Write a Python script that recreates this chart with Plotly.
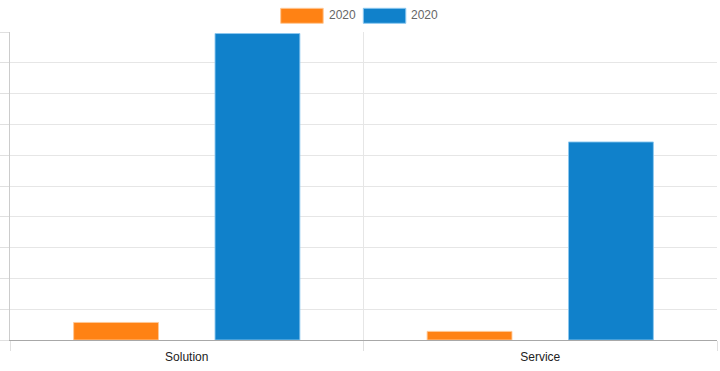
import plotly.graph_objects as go

categories = ["Solution", "Service"]
series_a_name = "2020"
series_a = [5.7, 2.8]
series_b_name = "2020"
series_b = [99.5, 64.3]

ORANGE = "#ff8214"
BLUE = "#1081cb"

W, H = 720, 371
L, R, T, B = 10, 3, 32, 31
pw, ph = W - L - R, H - T - B

def px_x(x):
    return (x - L) / pw

def px_y(y):
    return (H - B - y) / ph

fig = go.Figure()
fig.add_trace(go.Bar(x=categories, y=series_a, name=series_a_name,
                     marker=dict(color=ORANGE, line=dict(color="rgba(255,200,150,0.9)", width=1))))
fig.add_trace(go.Bar(x=categories, y=series_b, name=series_b_name,
                     marker=dict(color=BLUE, line=dict(color="rgba(140,200,240,0.9)", width=1))))

# custom legend (Chart.js style boxes)
legend_items = [(280.7, ORANGE, "rgba(255,200,150,1)", series_a_name),
                (363.3, BLUE, "rgba(140,200,240,1)", series_b_name)]
shapes = []
annotations = []
for x0, col, lc, name in legend_items:
    shapes.append(dict(type="rect", xref="paper", yref="paper",
                       x0=px_x(x0), x1=px_x(x0 + 42.5), y0=px_y(23.3), y1=px_y(8.3),
                       fillcolor=col, line=dict(color=lc, width=1), layer="above"))
    annotations.append(dict(xref="paper", yref="paper", x=px_x(x0 + 46), y=px_y(15.5),
                            text=name, showarrow=False, xanchor="left", yanchor="middle",
                            font=dict(size=12, color="#666666",
                                      family="Liberation Sans, Arial, sans-serif")))

fig.update_layout(
    width=W, height=H,
    margin=dict(l=L, r=R, t=T, b=B, autoexpand=False),
    paper_bgcolor="white", plot_bgcolor="white",
    barmode="group", bargap=0.2, bargroupgap=0.4,
    showlegend=False,
    shapes=shapes, annotations=annotations,
    font=dict(family="Liberation Sans, Arial, sans-serif", size=12, color="#333333"),
    xaxis=dict(type="category", tickson="boundaries", showgrid=True, gridcolor="#e6e6e6",
               ticks="outside", ticklen=10, tickcolor="#e0e0e0", automargin=False,
               showline=True, linecolor="#a8a8a8", linewidth=1,
               tickfont=dict(size=12, color="#222222"), ticklabelstandoff=6),
    yaxis=dict(range=[0, 100], dtick=10, showticklabels=False, showgrid=True, automargin=False,
               gridcolor="#e6e6e6", ticks="outside", ticklen=10, tickcolor="#e0e0e0",
               showline=True, linecolor="#cccccc", linewidth=1, zeroline=False),
)

fig.write_html("out.html")
